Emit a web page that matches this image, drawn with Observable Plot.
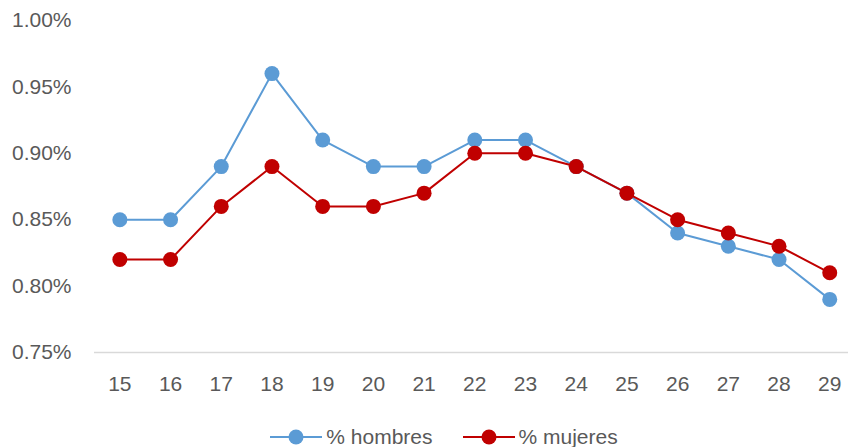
<!DOCTYPE html>
<html>
<head>
<meta charset="utf-8">
<script src="https://cdn.jsdelivr.net/npm/d3@7"></script>
<script src="https://cdn.jsdelivr.net/npm/@observablehq/plot@0.6"></script>
<style>
  html, body { margin: 0; padding: 0; background: #fff; }
  #wrap { position: relative; width: 848px; height: 447px; font-family: "Liberation Sans", Arial, sans-serif; }
  #legend { position: absolute; left: 0; top: 424px; width: 848px; height: 26px; display: flex; justify-content: center; align-items: center; gap: 30px; font-size: 21px; color: #595959; padding-left: 40px; box-sizing: border-box; }
  .item { display: flex; align-items: center; gap: 4px; }
</style>
</head>
<body>
<div id="wrap"><div id="chart"></div><div id="legend"></div></div>
<script>
const ages = [15, 16, 17, 18, 19, 20, 21, 22, 23, 24, 25, 26, 27, 28, 29];
const hombres = [0.85, 0.85, 0.89, 0.96, 0.91, 0.89, 0.89, 0.91, 0.91, 0.89, 0.87, 0.84, 0.83, 0.82, 0.79];
const mujeres = [0.82, 0.82, 0.86, 0.89, 0.86, 0.86, 0.87, 0.90, 0.90, 0.89, 0.87, 0.85, 0.84, 0.83, 0.81];
const yTicks = [0.75, 0.80, 0.85, 0.90, 0.95, 1.00];
const seriesNames = ["% hombres", "% mujeres"];
const colors = ["#5B9BD5", "#C00000"];

const rows = [];
ages.forEach((a, i) => {
  rows.push({age: a, value: hombres[i], serie: seriesNames[0]});
});
ages.forEach((a, i) => {
  rows.push({age: a, value: mujeres[i], serie: seriesNames[1]});
});
const hRows = rows.filter(d => d.serie === seriesNames[0]);
const mRows = rows.filter(d => d.serie === seriesNames[1]);

const chart = Plot.plot({
  width: 848,
  height: 415,
  marginLeft: 94,
  marginRight: 0,
  marginTop: 20,
  marginBottom: 63,
  style: {fontFamily: "'Liberation Sans', Arial, sans-serif", fontSize: "21px", color: "#595959", background: "#fff"},
  x: {type: "linear", domain: [14.5, 29.37], ticks: ages, tickFormat: d => String(d)},
  y: {domain: [0.75, 1.00], ticks: yTicks, tickFormat: d => d.toFixed(2) + "%"},
  marks: [
    Plot.ruleY([0.75], {stroke: "#d9d9d9", strokeWidth: 1.5}),
    Plot.axisX({ticks: ages, tickSize: 0, tickPadding: 24, tickFormat: d => String(d), label: null, fill: "#595959", fontSize: 21}),
    Plot.axisY({ticks: yTicks, tickSize: 0, tickPadding: 23, tickFormat: d => d.toFixed(2) + "%", label: null, fill: "#595959", fontSize: 21}),
    Plot.line(hRows, {x: "age", y: "value", stroke: colors[0], strokeWidth: 2}),
    Plot.dot(hRows, {x: "age", y: "value", r: 7.5, fill: colors[0], stroke: "none"}),
    Plot.line(mRows, {x: "age", y: "value", stroke: colors[1], strokeWidth: 2}),
    Plot.dot(mRows, {x: "age", y: "value", r: 7.5, fill: colors[1], stroke: "none"})
  ]
});
document.getElementById("chart").appendChild(chart);

const legend = document.getElementById("legend");
seriesNames.forEach((name, i) => {
  const item = document.createElement("div");
  item.className = "item";
  item.innerHTML = `<svg width="52" height="20"><line x1="0" y1="10" x2="52" y2="10" stroke="${colors[i]}" stroke-width="2"/><circle cx="26" cy="10" r="7.5" fill="${colors[i]}"/></svg><span>${name}</span>`;
  legend.appendChild(item);
});
</script>
</body>
</html>
